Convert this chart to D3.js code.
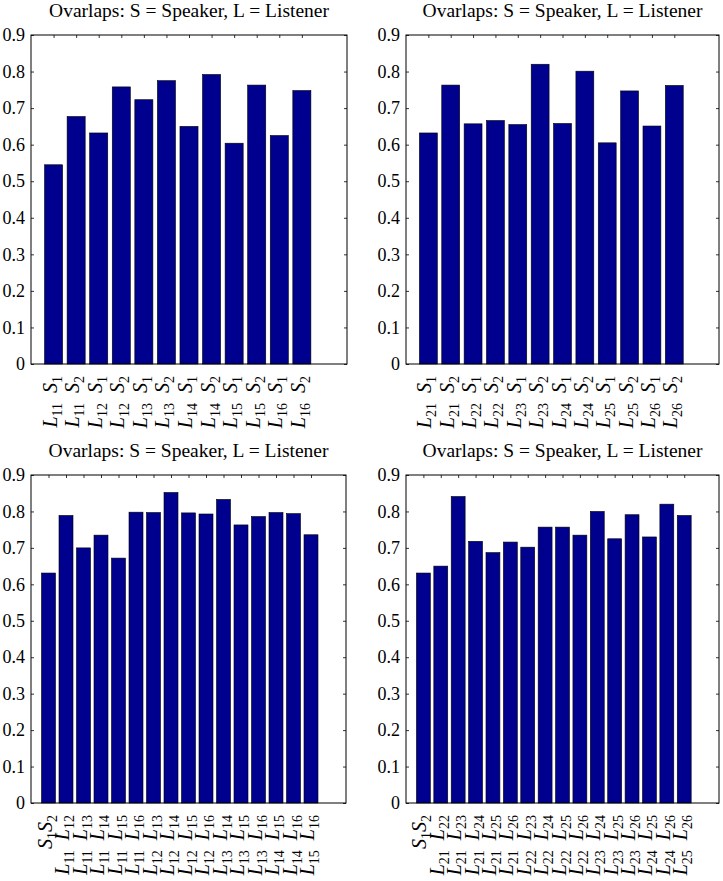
<!DOCTYPE html>
<html>
<head>
<meta charset="utf-8">
<script src="https://cdn.jsdelivr.net/npm/d3@7"></script>
<style>
  body { margin: 0; background: #fff; }
  svg { display: block; }
</style>
</head>
<body>
<svg id="chart" width="723" height="881" font-family="'Liberation Serif', 'DejaVu Serif', serif"></svg>
<script>
const titleText = "Ovarlaps: S = Speaker, L = Listener";
const yTicks = [0, 0.1, 0.2, 0.3, 0.4, 0.5, 0.6, 0.7, 0.8, 0.9];

// top left: listener group 1 vs speakers
const labelsTL = ["L11 S1", "L11 S2", "L12 S1", "L12 S2", "L13 S1", "L13 S2",
                  "L14 S1", "L14 S2", "L15 S1", "L15 S2", "L16 S1", "L16 S2"];
const valuesTL = [0.545, 0.677, 0.632, 0.758, 0.723, 0.775,
                  0.650, 0.792, 0.604, 0.763, 0.625, 0.748];

// top right: listener group 2 vs speakers
const labelsTR = ["L21 S1", "L21 S2", "L22 S1", "L22 S2", "L23 S1", "L23 S2",
                  "L24 S1", "L24 S2", "L25 S1", "L25 S2", "L26 S1", "L26 S2"];
const valuesTR = [0.632, 0.763, 0.657, 0.666, 0.655, 0.820,
                  0.658, 0.801, 0.605, 0.747, 0.651, 0.762];

// bottom left: pairs inside group 1
const labelsBL = ["S1S2", "L11 L12", "L11 L13", "L11 L14", "L11 L15", "L11 L16",
                  "L12 L13", "L12 L14", "L12 L15", "L12 L16", "L13 L14", "L13 L15",
                  "L13 L16", "L14 L15", "L14 L16", "L15 L16"];
const valuesBL = [0.631, 0.789, 0.700, 0.735, 0.672, 0.798, 0.797, 0.852,
                  0.796, 0.793, 0.833, 0.763, 0.786, 0.797, 0.794, 0.736];

// bottom right: pairs inside group 2
const labelsBR = ["S1S2", "L21 L22", "L21 L23", "L21 L24", "L21 L25", "L21 L26",
                  "L22 L23", "L22 L24", "L22 L25", "L22 L26", "L23 L24", "L23 L25",
                  "L23 L26", "L24 L25", "L24 L26", "L25 L26"];
const valuesBR = [0.631, 0.650, 0.841, 0.718, 0.687, 0.716, 0.702, 0.757,
                  0.757, 0.735, 0.800, 0.725, 0.791, 0.730, 0.820, 0.789];

const panels = [
  { labels: labelsTL, values: valuesTL, left: 31,  right: 347, top: 35,  bottom: 364 },
  { labels: labelsTR, values: valuesTR, left: 406, right: 719, top: 35,  bottom: 364 },
  { labels: labelsBL, values: valuesBL, left: 31,  right: 346, top: 475, bottom: 803 },
  { labels: labelsBR, values: valuesBR, left: 406, right: 719, top: 475, bottom: 803 }
];

const serif = "'Liberation Serif', 'DejaVu Serif', serif";
const svg = d3.select("#chart");
const barColor = "#00008f";
const fmt = d => d === 0 ? "0" : d3.format(".1f")(d);

panels.forEach(drawPanel);

function drawPanel(p) {
  const n = p.values.length;
  const x = d3.scaleLinear().domain([0, n + 2]).range([p.left, p.right]);
  const y = d3.scaleLinear().domain([0, 0.9]).range([p.bottom, p.top]);
  const idx = d3.range(1, n + 1);
  const g = svg.append("g").attr("font-family", serif);

  // title
  g.append("text")
    .attr("x", (p.left + p.right) / 2)
    .attr("y", p.top - 18)
    .attr("text-anchor", "middle")
    .attr("font-size", "19.5px")
    .text(titleText);

  // bars
  g.selectAll("rect.bar")
    .data(p.values)
    .join("rect")
    .attr("class", "bar")
    .attr("x", (d, i) => x(i + 1 - 0.4))
    .attr("width", x(0.8) - x(0))
    .attr("y", d => y(d))
    .attr("height", d => y(0) - y(d))
    .attr("fill", barColor)
    .attr("stroke", "#000")
    .attr("stroke-width", 0.6);

  // y axis left (ticks inward)
  const yl = g.append("g")
    .attr("transform", `translate(${p.left},0)`)
    .call(d3.axisLeft(y).tickValues(yTicks).tickSize(-3).tickPadding(6).tickFormat(fmt));
  yl.select(".domain").remove();
  yl.attr("font-family", serif).attr("font-size", 18);
  yl.selectAll("text").attr("fill", "#000");

  const yr = g.append("g")
    .attr("transform", `translate(${p.right},0)`)
    .call(d3.axisRight(y).tickValues(yTicks).tickSize(-3).tickFormat(""));
  yr.select(".domain").remove();

  const xt = g.append("g")
    .attr("transform", `translate(0,${p.top})`)
    .call(d3.axisTop(x).tickValues(idx).tickSize(-3).tickFormat(""));
  xt.select(".domain").remove();

  g.selectAll(".tick line").attr("stroke", "#000").attr("stroke-width", 0.8);

  // box
  g.append("rect")
    .attr("x", p.left).attr("y", p.top)
    .attr("width", p.right - p.left).attr("height", p.bottom - p.top)
    .attr("fill", "none").attr("stroke", "#000").attr("stroke-width", 1);

  // rotated x labels, italic letters with subscripts, hanging from the axis
  p.labels.forEach((lab, i) => {
    const t = g.append("text")
      .attr("transform", `translate(${x(i + 1)},${p.bottom + 12}) rotate(-90)`)
      .attr("y", 3)
      .attr("text-anchor", "end")
      .attr("font-size", "20px");
    const parts = lab.match(/[A-Z]\d+|\s/g);
    let shifted = false;
    parts.forEach(part => {
      if (part === " ") {
        t.append("tspan").attr("dy", shifted ? -5 : 0).text("\u2002");
        shifted = false;
        return;
      }
      t.append("tspan")
        .attr("font-style", "italic")
        .attr("dy", shifted ? -5 : 0)
        .text(part[0]);
      t.append("tspan")
        .attr("font-size", "14px")
        .attr("dy", 5)
        .text(part.slice(1));
      shifted = true;
    });
  });
}
</script>
</body>
</html>
